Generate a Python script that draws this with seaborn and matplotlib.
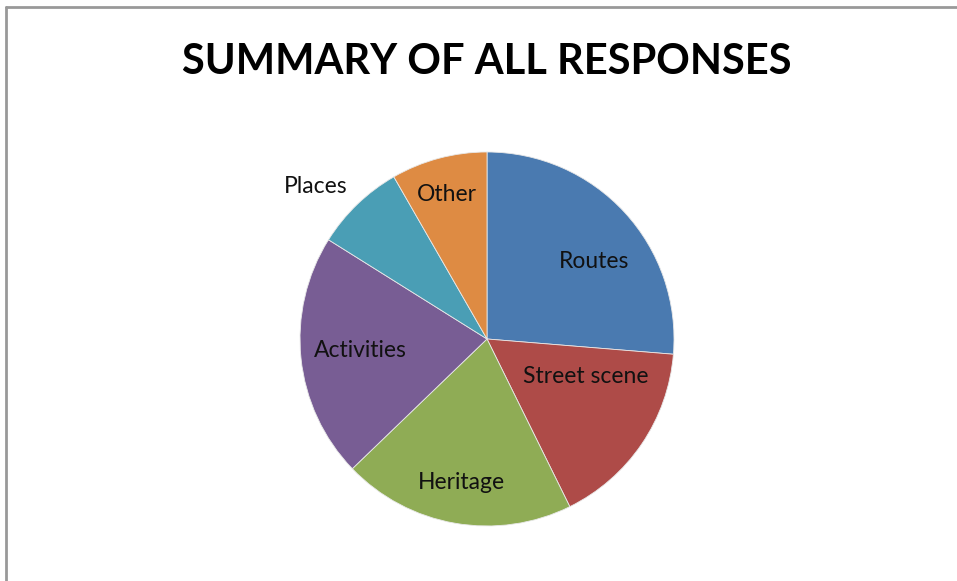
import matplotlib
matplotlib.use("Agg")
import matplotlib.pyplot as plt
import seaborn as sns
from matplotlib.lines import Line2D

sns.set_theme(style="white")
plt.rcParams['font.family'] = ['Lato', 'DejaVu Sans']

# Data (percent shares)
categories = ["Routes", "Street scene", "Heritage", "Activities", "Places", "Other"]
values = [26.3, 16.4, 20.1, 21.1, 7.8, 8.3]
colors = ["#4A7AB0", "#AE4B48", "#8FAC55", "#785D94", "#4A9EB5", "#DE8B43"]
title = "SUMMARY OF ALL RESPONSES"

# label placement (in pie radius units, relative to the centre)
label_pos = [(0.572, 0.417), (0.529, -0.203), (-0.139, -0.765),
             (-0.679, -0.064), (-0.914, 0.818), (-0.214, 0.775)]

fig = plt.figure(figsize=(9.57, 5.81), dpi=100)
ax = fig.add_axes([0.3135, 0.0947, 0.3908, 0.6437])
ax.pie(values, colors=colors, startangle=90, counterclock=False,
       radius=1.0, wedgeprops=dict(linewidth=0.6, edgecolor="#e8e8e8"))
ax.set_xlim(-1, 1)
ax.set_ylim(-1, 1)
ax.set_aspect("equal")
ax.axis("off")

for name, (x, y) in zip(categories, label_pos):
    ax.text(x, y, name, ha="center", va="center", fontsize=16.5, color="#111111")

fig.text(0.5085, 0.893, title, ha="center", va="center", fontsize=30,
         fontweight="bold", color="#000000")

# chart-area border (left and top visible)
fig.add_artist(Line2D([0.0063, 0.0063], [0, 0.988], transform=fig.transFigure,
                      color="#999999", linewidth=2))
fig.add_artist(Line2D([0.0063, 1.0], [0.988, 0.988], transform=fig.transFigure,
                      color="#999999", linewidth=2))

fig.savefig("out.png", dpi=100, facecolor="white")
